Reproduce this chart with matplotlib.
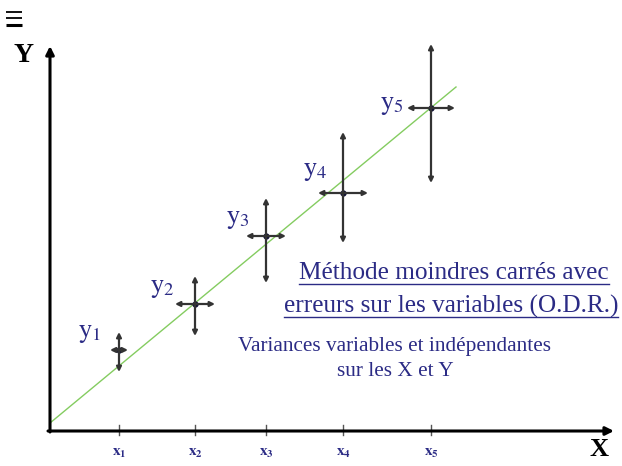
import numpy as np
import matplotlib
matplotlib.use("Agg")
import matplotlib.pyplot as plt

# --- Données (coordonnées du schéma, y vers le bas) ---
x_pts = [119, 195, 266, 343, 431]
y_pts = [350, 304, 236, 193, 108]
x_err = [9, 20, 20, 25, 24]
y_err_up = [18, 28, 38, 61, 64]
y_err_down = [22, 32, 47, 50, 75]
point_labels = ["1", "2", "3", "4", "5"]
label_pos = [(90, 332), (162, 287), (238, 218), (315, 170), (392, 104)]

fit_line_x = [50, 456]
fit_line_y = [423, 87]

origin = (50, 431)
x_axis_end = 614
y_axis_end = 46

TEXT_BLUE = "#2b2b85"
ARROW = "#333333"
SERIF = ["Liberation Serif", "DejaVu Serif"]

fig = plt.figure(figsize=(6.22, 4.66), dpi=100)
ax = fig.add_axes([0, 0, 1, 1])
ax.set_xlim(0, 622)
ax.set_ylim(466, 0)
ax.axis("off")

# axes avec flèches
ax.annotate("", xy=(x_axis_end, origin[1]), xytext=(origin[0] - 2, origin[1]),
            arrowprops=dict(arrowstyle="-|>", color="black", lw=2.2,
                            mutation_scale=12, shrinkA=0, shrinkB=0))
ax.annotate("", xy=(origin[0], y_axis_end), xytext=(origin[0], origin[1] + 1),
            arrowprops=dict(arrowstyle="-|>", color="black", lw=2.2,
                            mutation_scale=12, shrinkA=0, shrinkB=0))

ax.text(24, 55, "Y", fontsize=20, fontweight="bold", family=SERIF,
        ha="center", va="center")
ax.text(599, 449, "X", fontsize=19, fontweight="bold", family=SERIF,
        ha="center", va="center")

# icône menu en haut à gauche
for yy, lw in [(12, 1.3), (18, 1.3), (25, 2.2)]:
    ax.plot([6, 22], [yy, yy], color="black", lw=lw, solid_capstyle="butt")

# droite ajustée
ax.plot(fit_line_x, fit_line_y, color="#84cc60", lw=1.0)

# graduations et étiquettes x_i
for xi, lab in zip(x_pts, point_labels):
    ax.plot([xi, xi], [origin[1] - 6, origin[1] + 4], color="#555555", lw=1)
    ax.text(xi, 453, r"$\mathbf{x}_{\mathbf{%s}}$" % lab, fontsize=11,
            color=TEXT_BLUE, ha="center", va="center",
            math_fontfamily="stix")

# points avec barres d'erreur fléchées
arrow_kw = dict(arrowstyle="<|-|>", color=ARROW, lw=1.6,
                mutation_scale=7, shrinkA=0, shrinkB=0)
for xi, yi, ex, eu, ed in zip(x_pts, y_pts, x_err, y_err_up, y_err_down):
    ax.annotate("", xy=(xi - ex, yi), xytext=(xi + ex, yi), arrowprops=arrow_kw)
    ax.annotate("", xy=(xi, yi - eu), xytext=(xi, yi + ed), arrowprops=arrow_kw)
    ax.plot(xi, yi, "o", color="#111133", ms=3.5)

for (lx, ly), lab in zip(label_pos, point_labels):
    ax.text(lx, ly, r"$\mathrm{y}_{\mathrm{%s}}$" % lab, fontsize=19,
            color=TEXT_BLUE, ha="center", va="center", math_fontfamily="stix")

# titre souligné
title_lines = [("Méthode moindres carrés avec", 454, 273),
               ("erreurs sur les variables (O.D.R.)", 451, 306)]
fig.canvas.draw()
renderer = fig.canvas.get_renderer()
for txt, tx, ty in title_lines:
    t = ax.text(tx, ty, txt, fontsize=18.2, family=SERIF, color=TEXT_BLUE,
                ha="center", va="center")
    bb = t.get_window_extent(renderer).transformed(ax.transData.inverted())
    ax.plot([bb.x0, bb.x1], [ty + 11, ty + 11], color=TEXT_BLUE, lw=1.0)

ax.text(395, 346, "Variances variables et indépendantes", fontsize=15.3,
        family=SERIF, color=TEXT_BLUE, ha="center", va="center")
ax.text(395, 371, "sur les X et Y", fontsize=15.3,
        family=SERIF, color=TEXT_BLUE, ha="center", va="center")

fig.savefig("out.png", dpi=100)
